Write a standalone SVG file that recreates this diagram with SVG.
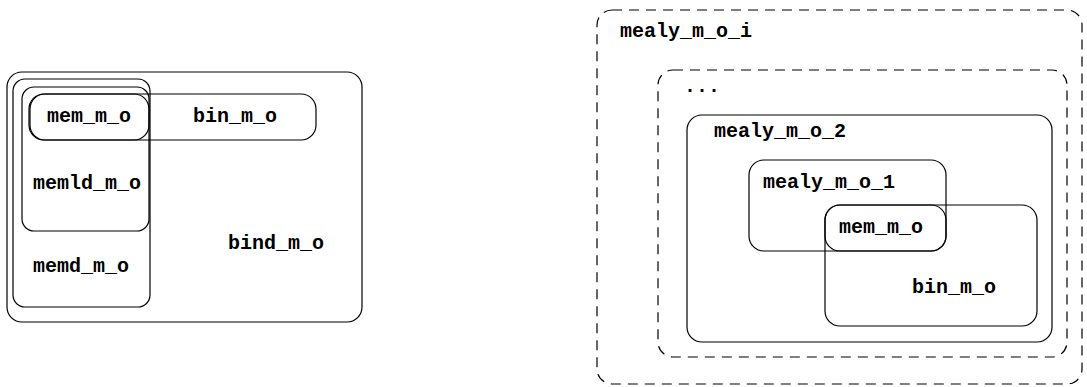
<svg xmlns="http://www.w3.org/2000/svg" width="1087" height="387" viewBox="0 0 1087 387">
<style>
.b{fill:none;stroke:#000;stroke-width:1.2}
.d{fill:none;stroke:#000;stroke-width:1.2;stroke-dasharray:10,7}
text{font-family:"Liberation Mono","Courier New",monospace;font-weight:bold;font-size:20px;fill:#000}
</style>
<rect width="1087" height="387" fill="#fff"/>
<g id="bind_m_o"><rect class="b" x="7" y="72" width="355" height="250" rx="15"/><text x="228" y="249">bind_m_o</text></g>
<g id="memd_m_o"><rect class="b" x="13" y="79" width="137" height="228" rx="12"/><text x="33" y="272">memd_m_o</text></g>
<g id="memld_m_o"><rect class="b" x="22" y="87" width="127" height="144" rx="12"/><text x="33" y="189">memld_m_o</text></g>
<g id="bin_m_o_left"><rect class="b" x="30" y="94" width="286" height="46" rx="15"/><text x="193" y="122">bin_m_o</text></g>
<g id="mem_m_o_left"><rect class="b" x="29" y="94" width="120" height="46" rx="15"/><text x="47" y="122">mem_m_o</text></g>
<g id="mealy_m_o_i"><rect class="d" x="597" y="10" width="485" height="374" rx="15"/><text x="620" y="37">mealy_m_o_i</text></g>
<g id="dots"><rect class="d" x="658" y="70" width="409" height="287" rx="15"/><text x="684" y="92">...</text></g>
<g id="mealy_m_o_2"><rect class="b" x="687" y="115" width="365" height="227" rx="15"/><text x="714" y="137">mealy_m_o_2</text></g>
<g id="mealy_m_o_1"><rect class="b" x="749" y="160" width="197" height="91" rx="15"/><text x="763" y="188">mealy_m_o_1</text></g>
<g id="bin_m_o_right"><rect class="b" x="825" y="205" width="212" height="121" rx="15"/><text x="912" y="293">bin_m_o</text></g>
<g id="mem_m_o_right"><rect class="b" x="825" y="205" width="121" height="46" rx="15"/><text x="839" y="233">mem_m_o</text></g>
<g id="connectors"/>
</svg>
